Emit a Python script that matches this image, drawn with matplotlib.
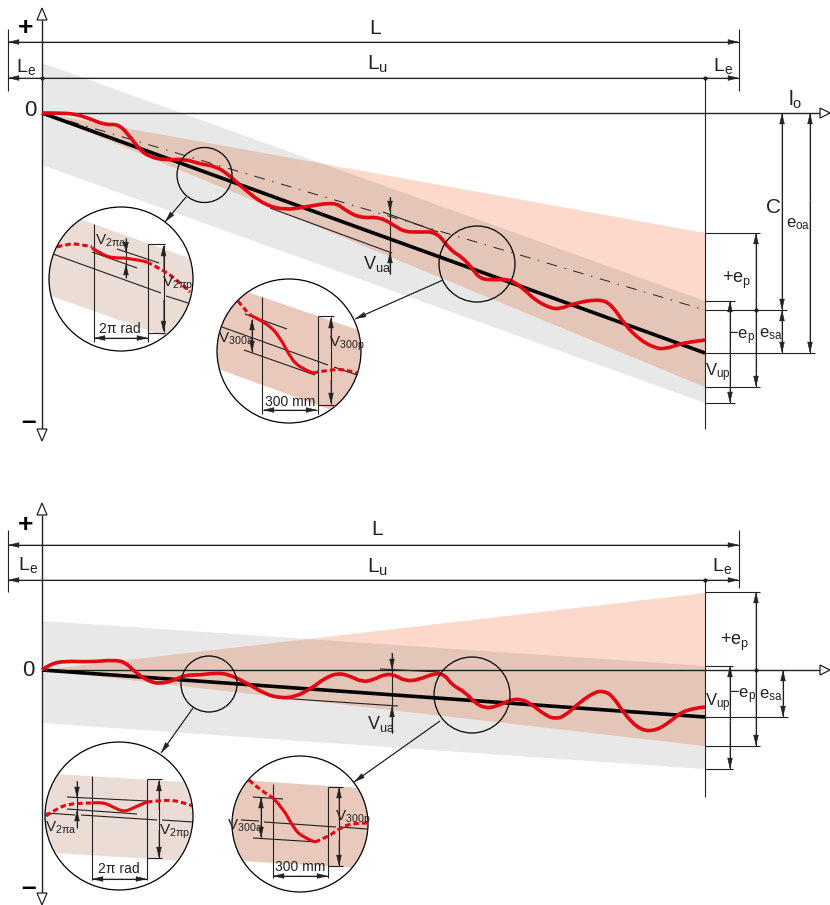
import matplotlib
matplotlib.use('Agg')
import matplotlib.pyplot as plt
from matplotlib.patches import Polygon, Circle, PathPatch
from matplotlib.path import Path

plt.rcParams['font.family'] = ['Liberation Sans', 'DejaVu Sans']
plt.rcParams['mathtext.fontset'] = 'custom'
plt.rcParams['mathtext.rm'] = 'Liberation Sans'
plt.rcParams['mathtext.it'] = 'Liberation Sans'
plt.rcParams['mathtext.default'] = 'regular'

GRAY = '#e8e8e8'
SALMON = '#fdd9cc'
OVERLAP = '#e4c6b8'
PALE = '#ebddd6'
RED = '#e30613'
INK = '#222222'

# all values are read off the picture, in picture pixels (x, y)
# upper diagram
top_gray = [(42, 63), (705, 301), (705, 403), (42, 165)]
top_salmon = [(42, 113), (705, 233), (705, 387)]
top_mean = [(42, 113), (705, 353)]
top_dashdot = [(42, 113), (705, 310)]
top_red = [(42, 113), (60, 113), (75, 114), (88, 118), (105, 125), (118, 124), (128, 134),
           (140, 150), (150, 157), (165, 160), (185, 159), (200, 164), (215, 166), (228, 174),
           (245, 190), (265, 205), (285, 210), (305, 207), (335, 202), (345, 210), (360, 218),
           (380, 217), (395, 226), (405, 232), (420, 232), (437, 232), (450, 250), (462, 257),
           (472, 268), (480, 279), (495, 280), (510, 279), (525, 290), (535, 300), (550, 308),
           (560, 309), (575, 303), (600, 299), (612, 305), (625, 325), (640, 340), (655, 348),
           (665, 349), (680, 344), (690, 342), (705, 340)]
# lower diagram
low_gray = [(42, 621), (705, 666), (705, 769), (42, 723)]
low_salmon = [(42, 670), (705, 593), (705, 746)]
low_mean = [(42, 670), (705, 717)]
low_red = [(42, 670), (50, 664), (65, 661), (90, 662), (113, 660), (125, 662), (135, 672),
           (148, 681), (160, 684), (175, 680), (185, 675), (200, 675), (215, 673), (228, 674),
           (245, 682), (265, 694), (280, 698), (295, 697), (312, 688), (325, 678), (338, 673),
           (350, 676), (362, 682), (373, 680), (385, 674), (395, 675), (405, 681), (418, 680),
           (435, 673), (445, 675), (452, 685), (465, 692), (475, 703), (485, 708), (495, 707),
           (510, 700), (520, 699), (530, 703), (545, 715), (555, 719), (565, 716), (580, 702),
           (595, 692), (603, 691), (612, 695), (625, 715), (640, 730), (655, 731), (670, 722),
           (685, 709), (705, 707)]

# circles: centre x, centre y, radius
small_circles = [(204.5, 175, 27.5), (477, 264, 38), (209, 684, 28), (472, 695, 38)]
# each zoom circle: circle, band, lines, red solid part, red dashed parts
zoom_1 = dict(circle=(121, 279, 72), band=[(60, 212), (200, 262), (200, 349), (40, 292)], color=PALE,
              lines=[[(93.5, 224), (93.5, 342)], [(148, 244), (148, 342)], [(148, 244), (165, 244)],
                     [(148, 333), (165, 333)], [(117, 249), (159, 263)], [(92, 252), (137, 268)],
                     [(53, 254), (161, 293)], [(166, 296), (188, 303)], [(126, 238), (126, 278)],
                     [(163.5, 245), (163.5, 332)], [(94, 338), (148, 338)]],
              solid=[(92, 248), (103, 255), (113, 258), (130, 258), (147, 262)],
              dashed=[[(57, 247), (67, 244), (80, 244), (92, 247)], [(147, 262), (163, 270), (177, 280), (190, 292)]],
              arrows=[[(163.5, 270), (163.5, 245)], [(120, 338), (94, 338)], [(120, 338), (148, 338)],
                      [(163.5, 300), (163.5, 332)], [(126, 238), (126, 253)], [(126, 278), (126, 264)]])
zoom_2 = dict(circle=(289, 351, 72), band=[(230, 286), (370, 334), (370, 424), (210, 366)], color='#e8c9bb',
              lines=[[(262, 297), (262, 414)], [(317.5, 316), (317.5, 414)], [(317.5, 316), (334, 316)],
                     [(317.5, 405), (334, 405)], [(245, 314), (287, 329)], [(222, 327), (328, 365)],
                     [(334, 367), (357, 375)], [(244, 350), (315, 375)], [(331, 317), (331, 404)],
                     [(263, 410), (317, 410)], [(252, 319), (252, 352)]],
              solid=[(250, 315), (267, 323), (280, 337), (290, 357), (300, 368), (313, 373)],
              dashed=[[(238, 301), (245, 310), (250, 315)], [(313, 373), (333, 369), (347, 370), (357, 373)]],
              arrows=[[(331, 340), (331, 317)], [(331, 380), (331, 404)], [(290, 410), (263, 410)],
                      [(290, 410), (317, 410)], [(252, 335), (252, 319)], [(252, 335), (252, 352)]])
zoom_3 = dict(circle=(119, 816, 74), band=[(40, 773), (200, 783), (200, 862), (40, 852)], color=PALE,
              lines=[[(92, 776), (92, 880)], [(147, 779), (147, 880)], [(147, 779), (162, 779)],
                     [(147, 858), (162, 858)], [(67, 797), (147, 801)], [(67, 809), (137, 814)],
                     [(46, 813), (75, 815)], [(81, 815), (157, 820)], [(162, 820), (193, 822)],
                     [(159, 780), (159, 858)], [(92, 879), (147, 879)], [(77, 781), (77, 828)]],
              solid=[(92, 803), (103, 802), (113, 807), (124, 812), (133, 808), (147, 802)],
              dashed=[[(46, 816), (57, 808), (73, 803), (92, 803)], [(147, 802), (163, 800), (180, 801), (193, 806)]],
              arrows=[[(159, 810), (159, 780)], [(159, 830), (159, 858)], [(120, 879), (92, 879)],
                      [(120, 879), (147, 879)], [(77, 781), (77, 798)], [(77, 828), (77, 810)]])
zoom_4 = dict(circle=(300, 824, 68), band=[(225, 779), (375, 789), (375, 869), (225, 860)], color='#e8c9bb',
              lines=[[(273, 784), (273, 878)], [(328, 787), (328, 878)], [(328, 787), (343, 787)],
                     [(328, 866), (343, 866)], [(253, 797), (283, 799)], [(264, 822), (336, 827)],
                     [(340, 827), (367, 829)], [(253, 838), (317, 842)], [(241, 820), (259, 821)],
                     [(339, 787), (339, 866)], [(273, 876), (328, 876)], [(261, 797), (261, 838)]],
              solid=[(273, 798), (283, 808), (293, 827), (302, 837), (315, 842)],
              dashed=[[(249, 780), (257, 788), (273, 798)], [(315, 842), (328, 837), (340, 828), (353, 823), (367, 823)]],
              arrows=[[(339, 820), (339, 787)], [(339, 840), (339, 866)], [(300, 876), (273, 876)],
                      [(300, 876), (328, 876)], [(261, 815), (261, 797)], [(261, 815), (261, 838)]])

# leader arrows from the small circles to the zoom circles
leaders = [[(186, 197), (165, 222)], [(443, 280), (355, 319)], [(193, 708), (161, 753)], [(440, 721), (354, 782)]]

# thin construction lines, both diagrams
thin_lines = [[(8, 29), (8, 91)], [(739, 29), (739, 91)], [(705, 78), (705, 429)],
              [(705, 233), (760, 233)], [(705, 301), (735, 301)], [(705, 310), (787, 310)],
              [(705, 353), (815, 353)], [(705, 387), (760, 387)], [(705, 403), (735, 403)],
              [(270, 208), (392, 253)], [(383, 212), (438, 232)], [(390, 197), (390, 274)],
              [(8, 530), (8, 592)], [(739, 530), (739, 588)], [(705, 580), (705, 797)],
              [(705, 592), (760, 592)], [(705, 666), (733, 666)], [(705, 717), (788, 717)],
              [(705, 746), (760, 746)], [(705, 769), (733, 769)],
              [(278, 698), (398, 706)], [(380, 669), (440, 672)], [(392, 653), (392, 733)]]

# dimension arrows, head at the second point
dim_arrows = [[(42, 42), (8, 42)], [(42, 42), (739, 42)], [(42, 78), (8, 78)], [(42, 78), (739, 78)],
              [(782, 200), (782, 113)], [(782, 200), (782, 310)], [(810, 200), (810, 113)], [(810, 200), (810, 353)],
              [(756, 300), (756, 233)], [(756, 300), (756, 387)], [(730, 350), (730, 301)], [(730, 350), (730, 403)],
              [(782, 330), (782, 310)], [(782, 330), (782, 353)], [(390, 197), (390, 212)], [(390, 274), (390, 252)],
              [(42, 545), (8, 545)], [(42, 545), (739, 545)], [(42, 580), (8, 580)], [(42, 580), (739, 580)],
              [(756, 670), (756, 592)], [(756, 670), (756, 746)], [(730, 720), (730, 666)], [(730, 720), (730, 769)],
              [(783, 690), (783, 670)], [(783, 690), (783, 717)], [(392, 653), (392, 670)], [(392, 733), (392, 706)]]

# axes with open triangular heads: start, end, direction
axis_lines = [[(42, 20), (42, 429)], [(42, 113), (820, 113)], [(42, 515), (42, 893)], [(42, 670), (820, 670)]]
axis_heads = [(42, 20, 'up'), (42, 429, 'down'), (820, 113, 'right'), (42, 515, 'up'), (42, 893, 'down'), (820, 670, 'right')]
junction_dots = [(42, 78), (705, 78), (756, 310), (705, 580), (756, 670)]

# text, x, y, size
labels = [('L', 375, 28, 15), ('L$_{e}$', 26, 67, 14), ('L$_{u}$', 378, 64, 15), ('L$_{e}$', 723, 66, 14),
          ('0', 30, 110, 16), ('l$_{o}$', 795, 100, 15), ('C', 773, 207, 15),
          ('e$_{oa}$', 798, 224, 12), ('+e$_{p}$', 737, 280, 13), ('−e$_{p}$', 742, 337, 12), ('e$_{sa}$', 771, 334, 12),
          ('V$_{up}$', 718, 373, 12), ('V$_{ua}$', 377, 264, 13),
          ('L', 377, 529, 15), ('L$_{e}$', 28, 565, 14), ('L$_{u}$', 378, 567, 15), ('L$_{e}$', 722, 566, 14),
          ('0', 28, 670, 16), ('+e$_{p}$', 735, 642, 13), ('−e$_{p}$', 743, 696, 12), ('e$_{sa}$', 771, 695, 12),
          ('V$_{up}$', 718, 703, 12), ('V$_{ua}$', 381, 724, 13),
          ('V$_{2πa}$', 111, 241, 11), ('V$_{2πp}$', 178, 284, 11), ('2π rad', 120, 329, 10),
          ('V$_{300a}$', 236, 339, 11), ('V$_{300p}$', 347, 344, 11), ('300 mm', 290, 402, 10),
          ('V$_{2πa}$', 61, 828, 11), ('V$_{2πp}$', 175, 832, 11), ('2π rad', 119, 869, 10),
          ('V$_{300a}$', 245, 826, 11), ('V$_{300p}$', 353, 818, 11), ('300 mm', 300, 867, 10)]
bold_signs = [('+', 26, 28), ('–', 28, 422), ('+', 26, 525), ('–', 28, 888)]

fig = plt.figure(figsize=(8.3, 9.05), dpi=100)
ax = fig.add_axes([0, 0, 1, 1])
ax.set_xlim(0, 830)
ax.set_ylim(905, 0)
ax.axis('off')


def thin(pts, lw=0.8, z=5, **kw):
    xs, ys = zip(*pts)
    return ax.plot(xs, ys, color=INK, lw=lw, zorder=z, solid_capstyle='butt', **kw)[0]


def head(pts, z=6):
    ax.annotate('', xy=pts[1], xytext=pts[0], zorder=z,
                arrowprops=dict(arrowstyle='-|>,head_length=0.7,head_width=0.17', mutation_scale=10,
                                color=INK, lw=0.4, shrinkA=0, shrinkB=0))


def smooth(pts):
    # quadratic curve through the midpoints, the read points are the controls
    verts = [pts[0]]
    codes = [Path.MOVETO]
    for a, b in zip(pts[1:-1], pts[2:]):
        verts += [a, ((a[0] + b[0]) / 2, (a[1] + b[1]) / 2)]
        codes += [Path.CURVE3, Path.CURVE3]
    verts[-1] = pts[-1]
    return Path(verts, codes)


def red_curve(pts, lw=2.6, z=7, dashes=None, clip=None):
    p = PathPatch(smooth(pts), fill=False, edgecolor=RED, lw=lw, zorder=z)
    if dashes:
        p.set_linestyle((0, dashes))
    ax.add_patch(p)
    if clip is not None:
        p.set_clip_path(clip)
    return p


def bands(gray, salmon):
    g = Polygon(gray, closed=True, fc=GRAY, ec='none', zorder=1)
    ax.add_patch(g)
    ax.add_patch(Polygon(salmon, closed=True, fc=SALMON, ec='none', zorder=2))
    over = Polygon(salmon, closed=True, fc=OVERLAP, ec='none', zorder=3)
    ax.add_patch(over)
    over.set_clip_path(g)


def zoom_circle(z):
    cx, cy, r = z['circle']
    bg = Circle((cx, cy), r, fc='white', ec='none', zorder=8)
    ax.add_patch(bg)
    band = Polygon(z['band'], closed=True, fc=z['color'], ec='none', zorder=9)
    ax.add_patch(band)
    band.set_clip_path(bg)
    for ln in z['lines']:
        thin(ln, z=10)
    for a in z['arrows']:
        head(a, z=10)
    red_curve(z['solid'], lw=2.2, z=11, clip=bg)
    for d in z['dashed']:
        red_curve(d, lw=2.2, z=11, dashes=(1.8, 1.0), clip=bg)
    ax.add_patch(Circle((cx, cy), r, fc='none', ec='black', lw=0.9, zorder=12))


bands(top_gray, top_salmon)
bands(low_gray, low_salmon)

for ln in thin_lines:
    thin(ln)
for ln in axis_lines:
    thin(ln, lw=1.0, z=5)
for a in dim_arrows:
    thin(a)
    head(a)

xs, ys = zip(*top_dashdot)
ax.plot(xs, ys, color=INK, lw=0.7, zorder=5, linestyle=(0, (11, 8, 1.5, 8)))
for mean in (top_mean, low_mean):
    xs, ys = zip(*mean)
    ax.plot(xs, ys, color='black', lw=2.6, zorder=6, solid_capstyle='butt')
red_curve(top_red)
red_curve(low_red)

for x, y in junction_dots:
    ax.plot(x, y, 'o', color=INK, ms=2, zorder=6)

for x, y, d in axis_heads:
    tri = {'up': [(x - 5, y), (x + 5, y), (x, y - 12)],
           'down': [(x - 5, y), (x + 5, y), (x, y + 12)],
           'right': [(x, y - 5), (x, y + 5), (x + 10, y)]}[d]
    ax.add_patch(Polygon(tri, closed=True, fc='white', ec=INK, lw=0.9, zorder=6))

for cx, cy, r in small_circles:
    ax.add_patch(Circle((cx, cy), r, fc='none', ec='black', lw=0.9, zorder=8))
for ln in leaders:
    thin(ln, z=8)
    head(ln, z=8)
for z in (zoom_1, zoom_2, zoom_3, zoom_4):
    zoom_circle(z)

for txt, x, y, size in labels:
    ax.text(x, y, txt, fontsize=size, ha='center', va='center', color=INK, zorder=14)
for txt, x, y in bold_signs:
    ax.text(x, y, txt, fontsize=19, fontweight='bold', ha='center', va='center', color='black', zorder=14)

fig.savefig('out.png', dpi=100)
